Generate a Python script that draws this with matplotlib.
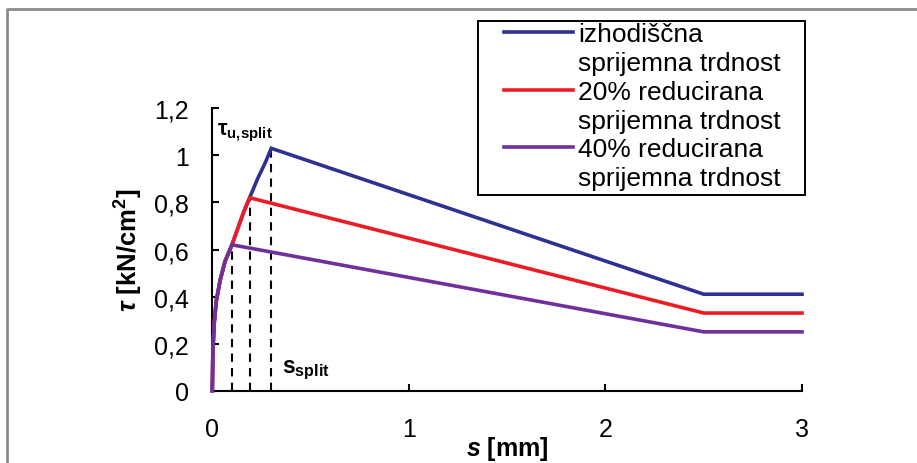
import matplotlib
matplotlib.use('Agg')
import matplotlib.pyplot as plt
import matplotlib.patches as mpatches
from matplotlib.lines import Line2D

plt.rcParams['font.family'] = ['Liberation Sans', 'DejaVu Sans']
plt.rcParams['mathtext.fontset'] = 'custom'
plt.rcParams['mathtext.rm'] = 'Liberation Sans:bold'
plt.rcParams['mathtext.it'] = 'Liberation Sans:italic:bold'
plt.rcParams['mathtext.bf'] = 'Liberation Sans:bold'

# bond-slip curves (s in mm, tau in kN/cm2)
s_base = [0, 0.003, 0.01, 0.02, 0.04, 0.065, 0.1, 0.13, 0.16, 0.19, 0.23, 0.27, 0.3, 2.5, 3.0]
tau_base = [0, 0.17, 0.29, 0.38, 0.47, 0.55, 0.62, 0.69, 0.76, 0.82, 0.90, 0.97, 1.03, 0.41, 0.41]

s_red = [0, 0.003, 0.01, 0.02, 0.04, 0.065, 0.1, 0.13, 0.16, 0.19, 2.5, 3.0]
tau_red = [0, 0.17, 0.29, 0.38, 0.47, 0.55, 0.62, 0.69, 0.76, 0.82, 0.33, 0.33]

s_purple = [0, 0.003, 0.01, 0.02, 0.04, 0.065, 0.1, 2.5, 3.0]
tau_purple = [0, 0.17, 0.29, 0.38, 0.47, 0.55, 0.62, 0.25, 0.25]

legend_labels = [('izhodiščna', 'sprijemna trdnost'),
                 ('20% reducirana', 'sprijemna trdnost'),
                 ('40% reducirana', 'sprijemna trdnost')]
colors = ['#2E3192', '#ED1C24', '#70309A']

y_ticks = [0, 0.2, 0.4, 0.6, 0.8, 1.0, 1.2]
y_ticklabels = ['0', '0,2', '0,4', '0,6', '0,8', '1', '1,2']
x_ticks = [0, 1, 2, 3]
x_ticklabels = ['0', '1', '2', '3']

W, H = 917, 464
fig = plt.figure(figsize=(W / 100, H / 100), dpi=100)
ax = fig.add_axes([212.3 / W, 1 - 391.7 / H, (802 - 212.3) / W, (391.7 - 109.3) / H])

series = [(s_base, tau_base), (s_red, tau_red), (s_purple, tau_purple)]
handles = []
for (s, t), c in zip(series, colors):
    ln, = ax.plot(s, t, color=c, lw=2.6, clip_on=False, solid_joinstyle='miter', zorder=3)
    handles.append(ln)
    # dashed drop line from peak
    i = t.index(max(t))
    ax.vlines(s[i], 0, t[i], colors='black', linestyles=(0, (4, 3)), lw=1.5, zorder=2)

ax.set_xlim(0, 3)
ax.set_ylim(0, 1.2)
ax.set_xticks(x_ticks)
ax.set_xticklabels(x_ticklabels)
ax.set_yticks(y_ticks)
ax.set_yticklabels(y_ticklabels)
ax.tick_params(direction='in', length=5, width=1.5, labelsize=18)
ax.tick_params(axis='y', pad=17)
ax.tick_params(axis='x', pad=19)
for sp in ['top', 'right']:
    ax.spines[sp].set_visible(False)
for sp in ['left', 'bottom']:
    ax.spines[sp].set_linewidth(1.5)

ax.set_xlabel(r'$s$ [mm]', fontsize=18, fontweight='bold', labelpad=-5)
ax.set_ylabel(r'$\tau$ [kN/cm$^\mathbf{2}$]', fontsize=18.5, fontweight='bold', labelpad=6)

ax.text(0.024, 1.10, r'$\mathrm{\tau_{u{,}split}}$', fontsize=15.5, va='center', ha='left')
ax.text(0.355, 0.09, r'$\mathrm{s_{split}}$', fontsize=16.5, va='center', ha='left')

# legend: one row per text line, handle on the first line
leg_handles, leg_texts = [], []
for h, (l1, l2) in zip(handles, legend_labels):
    leg_handles += [h, Line2D([], [], color='none')]
    leg_texts += [l1, l2]
leg = fig.legend(leg_handles, leg_texts, loc='upper left', bbox_to_anchor=(503 / W, 1 - 22 / H),
                 frameon=False, fontsize=19, handlelength=2.6, handletextpad=0.2,
                 labelspacing=0.18, borderpad=0.05, borderaxespad=0)
fig.add_artist(mpatches.Rectangle((478 / W, 1 - 196 / H), (805 - 478) / W, (196 - 22) / H,
                                  transform=fig.transFigure, fill=False, ec='black', lw=1.4))

# grey outer frame
fig.add_artist(Line2D([7 / W, 7 / W, 1], [0, 1 - 10 / H, 1 - 10 / H], transform=fig.transFigure,
                      color='#8C8C8C', lw=2))

plt.savefig('out.png', dpi=100)
plt.close()
